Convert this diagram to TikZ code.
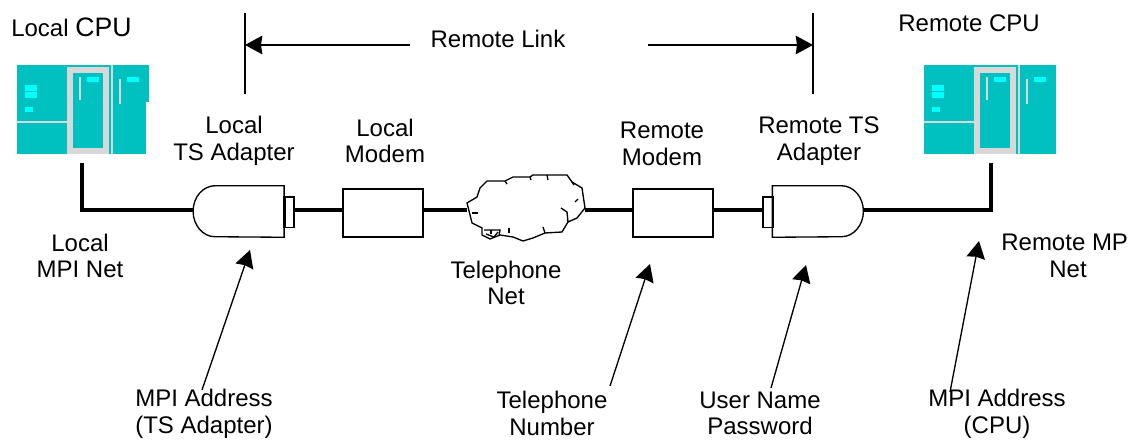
\documentclass[tikz,border=0pt]{standalone}
\usepackage{fontspec}
\setmainfont{Liberation Sans}
\usetikzlibrary{arrows.meta}
\definecolor{cputeal}{HTML}{00C0C0}
\definecolor{cpugrey}{HTML}{D8D8D8}
\definecolor{cpulight}{HTML}{00FFFF}
\tikzset {>={Stealth[length=13pt,width=14pt,inset=1pt]},
  lbl/.style={align=center,inner sep=0pt,font=\fontsize{18}{20}\selectfont},
  thinline/.style={line width=1pt},
  thickline/.style={line width=2.3pt},
  modembox/.style={draw,thinline,minimum width=60pt,minimum height=36pt,inner sep=0pt},
  plugbox/.style={draw,thinline,minimum width=7.5pt,minimum height=23pt,inner sep=0pt},
  hiddenbox/.style={minimum width=68pt,minimum height=38.25pt,inner sep=0pt},
  cpu/.pic={
    \fill[cputeal] (0,0) rectangle (132,89);
    \fill[cpugrey] (50,2) rectangle (92,89);
    \fill[cpugrey] (94,0) rectangle (96,89);
    \fill[cputeal] (56,8) rectangle (86,83);
    \fill[cpugrey] (0,56.5) rectangle (50,58);
    \fill[cpugrey] (62,12) rectangle (64,35);
    \fill[cpugrey] (102,14) rectangle (104,39);
    \fill[cpulight] (70,12) rectangle (82,17);
    \fill[cpulight] (110,12) rectangle (122,17);
    \fill[cpulight] (8,20) rectangle (20,26);
    \fill[cpulight] (8,27) rectangle (20,33);
    \fill[cpulight] (8,42) rectangle (16,47);
  }}

\begin{document}
\begin{tikzpicture}[x=0.75pt,y=-0.75pt]
\useasboundingbox[clip] (0,0) rectangle (1130,441);

% the two CPUs
\pic at (17,65) {cpu};
\fill[white] (146,102) rectangle (150,155);
\pic at (924,65) {cpu};
\coordinate (localcpu) at (82,163);
\coordinate (remotecpu) at (991,163);

% adapters and modems on the line
\node[hiddenbox] (localadapter) at (238.5,211.5) {};
\node[hiddenbox] (remoteadapter) at (818,211.5) {};
\node[plugbox] (localplug) at (289,212.5) {};
\node[plugbox] (remoteplug) at (768,212.5) {};
\node[modembox] (localmodem) at (383,213) {};
\node[modembox] (remotemodem) at (673,213) {};
\node[minimum width=88pt,minimum height=50pt,inner sep=0pt] (cloudnet) at (526,208) {};

\draw[thinline] (localadapter.north east) -- ++(-69,0)
  arc[start angle=-90,end angle=-270,x radius=22,y radius=25.5] -- (localadapter.south east) -- cycle;
\draw[thinline] (remoteadapter.north west) -- ++(69,0)
  arc[start angle=-90,end angle=90,x radius=22,y radius=25.5] -- (remoteadapter.south west) -- cycle;
\fill (localplug.north west) rectangle ++(3,31);
\fill (remoteplug.north east) rectangle ++(-2,31);

% telephone net
\draw[thinline] (467,203) -- (477,197) -- (480,188) -- (487,181) -- (505,181) -- (513,177)
  -- (530,177) -- (533,175) -- (567,175) -- (572,182) -- (582,188) -- (585,208) -- (577,218)
  -- (568,222) -- (562,232) -- (545,233) -- (533,238) -- (523,241) -- (513,237) -- (500,235)
  -- (490,239) -- (482,235) -- (482,228) -- (472,223) -- (470,215) -- cycle;
\draw[thinline] (561,208) -- (567,212) -- (568,222);
\draw[thinline] (575,202) -- (578,199);
\draw[thinline] (472,213) -- (478,213);
\draw[thinline] (509,228) -- (509,233);
\draw[thinline] (543,227) -- (545,233);
\draw[thinline] (505,181) -- (507,184);
\draw[thinline] (530,177) -- (531,180);
\draw[thinline] (547,175) -- (548,180);
\draw[thinline] (572,182) -- (574,185);
\draw[thinline] (484,230) -- (500,230) -- (499,236);
\draw[thinline] (486,234) -- (494,237) -- (498,232);
\draw[thinline] (491,230) -- (491,234);

% thick line
\draw[thickline] (localcpu) -- (82,210) -- (localadapter.west |- 0,210);
\draw[thickline] (localplug.east |- 0,210) -- (localmodem.west |- 0,210);
\draw[thickline] (localmodem.east |- 0,210) -- (cloudnet.west |- 0,210);
\draw[thickline] (cloudnet.east |- 0,210) -- (remotemodem.west |- 0,210);
\draw[thickline] (remotemodem.east |- 0,210) -- (remoteplug.west |- 0,210);
\draw[thickline] (remotecpu) -- (991,210) -- (863,210);

% remote link
\coordinate (linkleft) at (245,13);
\coordinate (linkright) at (813,13);
\draw[thinline] (linkleft) -- (245,94);
\draw[thinline] (linkright) -- (813,94);
\node[lbl] (remotelink) at (498,39) {Remote Link};
\coordinate (linkstartl) at (410,45);
\coordinate (linkstartr) at (648,45);
\draw[thinline,->] (linkstartl) -- (linkleft |- linkstartl);
\draw[thinline,->] (linkstartr) -- (linkright |- linkstartr);

% labels
\node[lbl,anchor=west] (localcpulbl) at (11,27) {Local {\fontsize{20}{20}\selectfont CPU}};
\node[lbl] (remotecpulbl) at (969,23) {Remote CPU};
\node[lbl] (localadapterlbl) at (234,141) {Local\\TS Adapter};
\node[lbl] (localmodemlbl) at (385,141) {Local\\Modem};
\node[lbl] (remotemodemlbl) at (662,144) {Remote\\Modem};
\node[lbl] (remoteadapterlbl) at (819,141) {Remote TS\\Adapter};
\node[lbl] (localnetlbl) at (80,256) {Local\\MPI Net};
\node[lbl] (phonenetlbl) at (506,283) {Telephone\\Net};
\node[lbl] (remotenetlbl) at (1068,256) {Remote MPI\\Net};
\node[lbl] (tsaddrlbl) at (204,413.5) {MPI Address\\(TS Adapter)};
\node[lbl] (phonelbl) at (552,413.5) {Telephone\\Number};
\node[lbl] (userlbl) at (760,413.5) {User Name\\Password};
\node[lbl] (cpuaddrlbl) at (997,413.5) {MPI Address\\(CPU)};

% arrows pointing up
\coordinate (tipa) at (250,250);
\coordinate (tipb) at (650,264);
\coordinate (tipc) at (806,265);
\coordinate (tipd) at (979,241);
\coordinate (taila) at (202,390);
\coordinate (tailb) at (610,386);
\coordinate (tailc) at (771,388);
\coordinate (taild) at (950,392);
\foreach \a/\b in {taila/tipa,tailb/tipb,tailc/tipc,taild/tipd}
  \draw[thinline,->] (\a) -- (\b);
\end{tikzpicture}
\end{document}
